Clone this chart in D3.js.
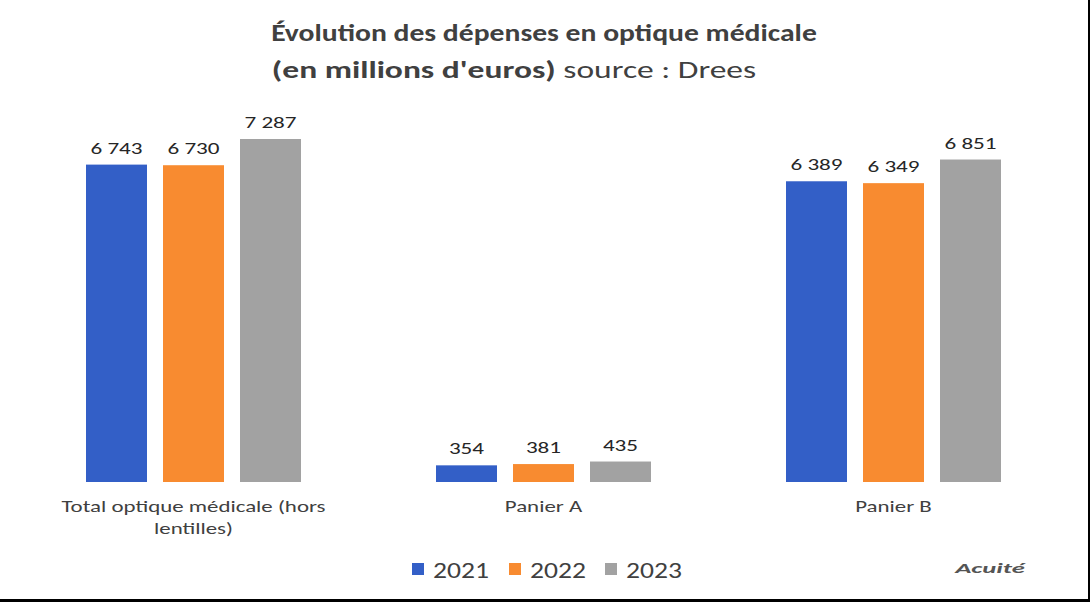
<!DOCTYPE html>
<html><head><meta charset="utf-8">
<script src="https://cdn.jsdelivr.net/npm/d3@7"></script>
<style>body{margin:0;background:#fff}svg{display:block}</style>
</head><body><svg id="c" width="1090" height="602"></svg>
<script>
const categories = ["Total optique médicale (hors lentilles)", "Panier A", "Panier B"];
const categoryLines = [["Total optique médicale (hors", "lentilles)"], ["Panier A"], ["Panier B"]];
const years = ["2021", "2022", "2023"];
const values2021 = [6743, 354, 6389];
const values2022 = [6730, 381, 6349];
const values2023 = [7287, 435, 6851];
const valueLabels2021 = ["6 743", "354", "6 389"];
const valueLabels2022 = ["6 730", "381", "6 349"];
const valueLabels2023 = ["7 287", "435", "6 851"];
const colors = ["#335fc7", "#f88b30", "#a2a2a2"];

const series = [values2021, values2022, values2023];
const seriesLabels = [valueLabels2021, valueLabels2022, valueLabels2023];

const svg = d3.select("#c");
const font = "Calibri, Carlito, 'Open Sans', 'Liberation Sans', sans-serif";

// horizontally widen text to mimic the reference's wide rendering
function stretch(sel, factor) {
  sel.each(function() {
    const w = this.getComputedTextLength();
    d3.select(this).attr("textLength", w * factor).attr("lengthAdjust", "spacingAndGlyphs");
  });
  return sel;
}

svg.append("rect").attr("x",0).attr("y",0).attr("width",1090).attr("height",602).attr("fill","#fff");
svg.append("rect").attr("x",1088).attr("y",0).attr("width",2).attr("height",602).attr("fill","#000");
svg.append("rect").attr("x",0).attr("y",599).attr("width",1090).attr("height",3).attr("fill","#000");

// title
stretch(svg.append("text").attr("x",544).attr("y",41).attr("text-anchor","middle")
  .attr("font-family",font).attr("font-size",25).attr("font-weight","bold").attr("fill","#404040")
  .text("Évolution des dépenses en optique médicale"), 1.185);
const t2 = svg.append("text").attr("x",514).attr("y",78).attr("text-anchor","middle")
  .attr("font-family",font).attr("font-size",25).attr("fill","#404040");
t2.append("tspan").attr("font-weight","bold").text("(en millions d'euros)");
t2.append("tspan").text(" source : Drees");
stretch(t2, 1.34);

const x0 = d3.scaleBand().domain(categories).range([18.5, 1068.5]).paddingInner(0).paddingOuter(0);
const x1 = d3.scaleBand().domain(years).range([0, 215]).paddingInner(16/77).paddingOuter(0);
const y = d3.scaleLinear().domain([0, 7287]).range([482, 139]);

categories.forEach((cat, ci) => {
  const gx = x0(cat) + x0.bandwidth()/2 - 107.5;
  years.forEach((yr, si) => {
    const v = series[si][ci];
    const bx = gx + x1(yr);
    svg.append("rect").attr("x", bx).attr("y", y(v)).attr("width", x1.bandwidth())
      .attr("height", y(0) - y(v)).attr("fill", colors[si]);
    stretch(svg.append("text").attr("x", bx + x1.bandwidth()/2).attr("y", y(v) - 11)
      .attr("text-anchor","middle").attr("font-family",font).attr("font-size",17)
      .attr("fill","#262626").text(seriesLabels[si][ci]), 1.36);
  });
  categoryLines[ci].forEach((ln, li) => {
    stretch(svg.append("text").attr("x", x0(cat) + x0.bandwidth()/2).attr("y", 512 + li*22)
      .attr("text-anchor","middle").attr("font-family",font).attr("font-size",16)
      .attr("fill","#404040").text(ln), 1.43);
  });
});

// legend
const legendX = [412, 509, 605];
years.forEach((yr, i) => {
  svg.append("rect").attr("x", legendX[i]).attr("y", 563).attr("width", 12).attr("height", 12).attr("fill", colors[i]);
  stretch(svg.append("text").attr("x", legendX[i] + 21).attr("y", 578).attr("font-family",font)
    .attr("font-size",23).attr("fill","#404040").text(yr), 1.2);
});

// watermark
stretch(svg.append("text").attr("x", 990).attr("y", 573).attr("text-anchor","middle")
  .attr("font-family",font).attr("font-size",14).attr("font-weight","bold").attr("font-style","italic")
  .attr("fill","#555").text("Acuité"), 1.9);
</script></body></html>
